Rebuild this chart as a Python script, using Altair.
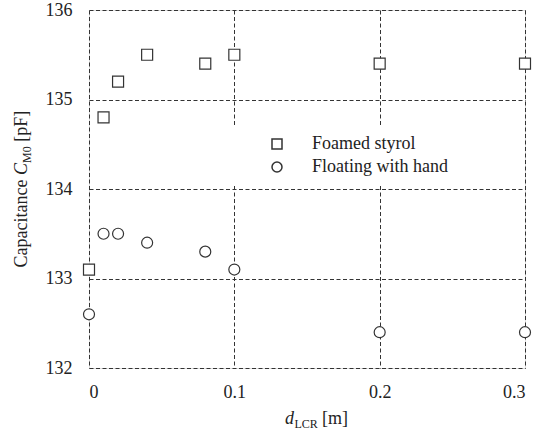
import altair as alt
import pandas as pd

# ---- data ----
d_lcr = [0, 0.01, 0.02, 0.04, 0.08, 0.1, 0.2, 0.3]
foamed = [133.1, 134.8, 135.2, 135.5, 135.4, 135.5, 135.4, 135.4]
floating = [132.6, 133.5, 133.5, 133.4, 133.3, 133.1, 132.4, 132.4]
series = ["Foamed styrol", "Floating with hand"]
x_ticks = [0, 0.1, 0.2, 0.3]
y_ticks = [132, 133, 134, 135, 136]

rows = []
for name, vals in zip(series, [foamed, floating]):
    for x, y in zip(d_lcr, vals):
        rows.append({"d": x, "C": y, "series": name})
df = pd.DataFrame(rows)

FONT = "Liberation Serif"
INK = "#222222"
MARK = "#333333"
W, H = 436, 358

axis_common = dict(
    title=None, grid=True, gridColor="#333333", gridDash=[4, 2.5], gridWidth=1,
    domain=False, ticks=False, labelFont=FONT, labelFontSize=18, labelColor=INK,
)

points = alt.Chart(df).mark_point(
    filled=True, fill="white", stroke=MARK, strokeWidth=1.2, size=121, opacity=1,
).encode(
    x=alt.X("d:Q", scale=alt.Scale(domain=[0, 0.3], nice=False, zero=False),
            axis=alt.Axis(values=x_ticks, format="~g", labelPadding=15, **axis_common)),
    y=alt.Y("C:Q", scale=alt.Scale(domain=[132, 136], nice=False, zero=False),
            axis=alt.Axis(values=y_ticks, format="d", labelPadding=17, **axis_common)),
    shape=alt.Shape("series:N", scale=alt.Scale(domain=series, range=["square", "circle"]),
                    legend=alt.Legend(
                        title=None, orient="none", legendX=140, legendY=115,
                        fillColor="white", padding=10, symbolOffset=29, labelOffset=26,
                        rowPadding=5, labelFont=FONT, labelFontSize=18, labelColor=INK,
                        labelLimit=0,
                    )),
)

one = pd.DataFrame({"k": [0]})


def txt(s, x, y, size=18, style="normal", angle=0):
    return alt.Chart(one).mark_text(
        text=s, font=FONT, fontSize=size, fontStyle=style, color=INK,
        align="left", baseline="alphabetic", angle=angle,
    ).encode(x=alt.value(x), y=alt.value(y))


titles = [
    # y-axis title (rotated)
    txt("Capacitance", -62, 257.5, angle=270),
    txt("C", -62, 165, style="italic", angle=270),
    txt("M0", -58.5, 153, size=12, angle=270),
    txt("[pF]", -62, 131.8, angle=270),
    # x-axis title
    txt("d", 196, 413.5, style="italic"),
    txt("LCR", 205.5, 417.5, size=12),
    txt("[m]", 233, 413.5),
]

chart = alt.layer(points, *titles).properties(
    width=W, height=H,
    autosize=alt.AutoSizeParams(type="none"),
    padding={"left": 89, "top": 10, "right": 24, "bottom": 68},
).configure_view(stroke="#222222", strokeWidth=1.6).configure(background="white")

chart.save("out.html", embed_options={"renderer": "svg", "actions": False})
